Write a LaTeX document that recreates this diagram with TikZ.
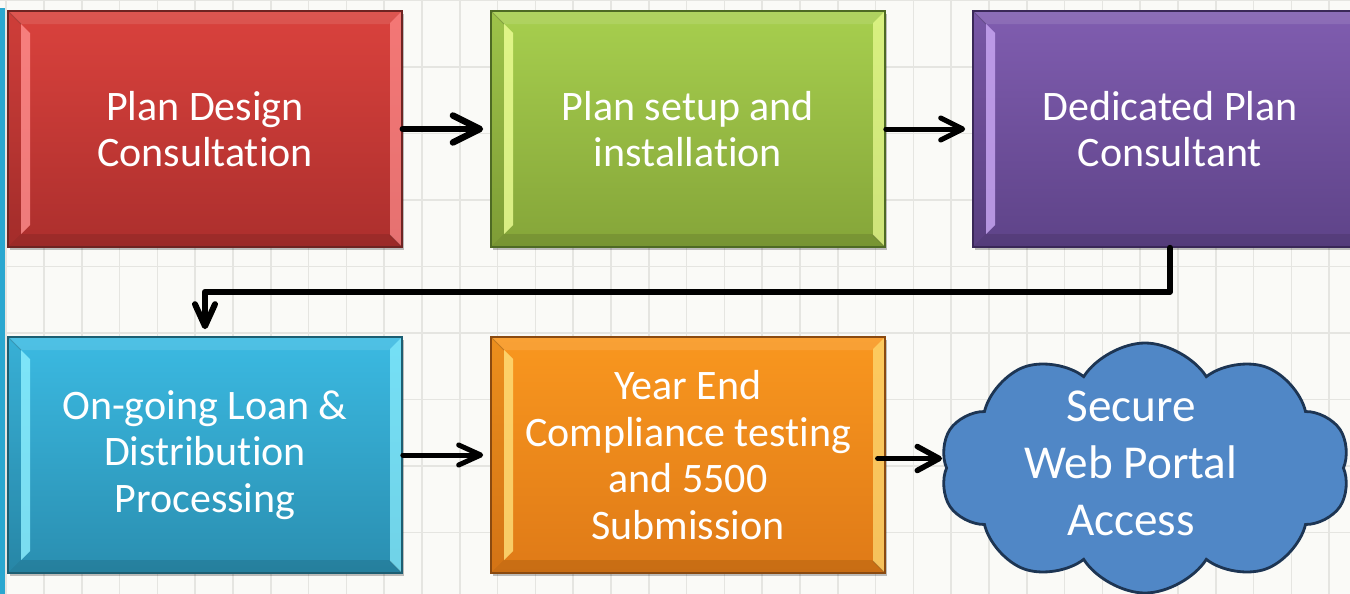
\documentclass[tikz,border=0pt]{standalone}
\usepackage{fontspec}
\setmainfont{Carlito}[Ligatures=NoCommon]
\usetikzlibrary{arrows.meta,shapes.symbols,shadows,calc}

\definecolor{pageback}{HTML}{FAFAF7}
\definecolor{gridline}{HTML}{E5E5E1}
\definecolor{edgebar}{HTML}{2AA7D0}
% box colours: top, bottom, highlight, outline
\definecolor{redtop}{HTML}{DA423D}\definecolor{redbot}{HTML}{AC2F2D}
\definecolor{redhi}{HTML}{FF8E8E}\definecolor{rededge}{HTML}{6E2422}
\definecolor{grntop}{HTML}{A7CF4E}\definecolor{grnbot}{HTML}{85A539}
\definecolor{grnhi}{HTML}{EEFF96}\definecolor{grnedge}{HTML}{4E6A24}
\definecolor{prptop}{HTML}{805DB0}\definecolor{prpbot}{HTML}{5E4388}
\definecolor{prphi}{HTML}{CBA9F5}\definecolor{prpedge}{HTML}{3A2858}
\definecolor{cyntop}{HTML}{3BBAE2}\definecolor{cynbot}{HTML}{2A8EB0}
\definecolor{cynhi}{HTML}{8EF0FF}\definecolor{cynedge}{HTML}{1C5E72}
\definecolor{orgtop}{HTML}{F9971F}\definecolor{orgbot}{HTML}{DF7A17}
\definecolor{orghi}{HTML}{FFE07A}\definecolor{orgedge}{HTML}{8A4A10}
\definecolor{cloudfill}{HTML}{5087C6}
\definecolor{cloudedge}{HTML}{1D3553}

\newcommand\boxfont{\fontsize{21}{23.2}\selectfont}
\newcommand\cloudfont{\fontsize{23.6}{28.5}\selectfont}

\tikzset{
  bevelbox/.style n args={4}{
    draw=#4, line width=0.8pt, top color=#1, bottom color=#2,
    minimum width=197pt, minimum height=118pt, inner sep=0pt,
    text=white, font=\boxfont, align=center,
    drop shadow={shadow xshift=1.2pt, shadow yshift=-1.6pt, opacity=.25, fill=black},
    path picture={
      \path (path picture bounding box.north west) coordinate (pnw)
            (path picture bounding box.south east) coordinate (pse);
      % top and bottom bevel faces
      \fill[white,opacity=.10] (pnw) -- (pnw-|pse) -- ($(pnw-|pse)+(-13,13)$)
        -- ($(pnw)+(13,13)$) -- cycle;
      \fill[black,opacity=.10] (pnw|-pse) -- (pse) -- ($(pse)+(-13,-13)$)
        -- ($(pnw|-pse)+(13,-13)$) -- cycle;
      % left bevel face and its inner highlight
      \fill[black,opacity=.05] (pnw) -- ($(pnw)+(13,13)$)
        -- ($(pnw|-pse)+(13,-13)$) -- (pnw|-pse) -- cycle;
      \fill[#3,opacity=.8] ($(pnw)+(13,13)$) -- ($(pnw)+(22,22)$)
        -- ($(pnw|-pse)+(22,-22)$) -- ($(pnw|-pse)+(13,-13)$) -- cycle;
      % right bevel face
      \fill[#3,opacity=.70] (pnw-|pse) -- (pse) -- ($(pse)+(-12,-12)$)
        -- ($(pnw-|pse)+(-12,12)$) -- cycle;
      \draw[black,opacity=.18,line width=0.5pt] ($(pnw)+(13,13)$) -- (pnw)
        ($(pse)+(-12,-12)$) -- (pse);
    }
  },
  arr/.style n args={3}{
    draw=black, line width=#1, line cap=round, line join=round,
    -{Straight Barb[length=#2,width=#3,round]}, shorten >=3.5pt
  }
}

\begin{document}
\begin{tikzpicture}[x=0.5pt,y=-0.5pt]
\useasboundingbox (0,0) rectangle (1350,594);
\clip (0,0) rectangle (1350,594);
% paper with a light grid
\fill[pageback] (0,0) rectangle (1350,594);
\foreach \k in {0,...,35}
  \draw[gridline,line width=0.8pt] ({6.2+37.8*\k},0) -- ({6.2+37.8*\k},594);
\foreach \k in {0,...,8}
  \draw[gridline,line width=0.8pt] (0,{0.5+66.5*\k}) -- (1350,{0.5+66.5*\k});
\fill[edgebar] (0,8) rectangle (5,594);

% process steps
\node[bevelbox={redtop}{redbot}{redhi}{rededge}] (b1) at (205,129)
  {Plan Design\\Consultation};
\node[bevelbox={grntop}{grnbot}{grnhi}{grnedge}] (b2) at (688,129)
  {Plan setup and\\installation};
\node[bevelbox={prptop}{prpbot}{prphi}{prpedge}] (b3) at (1170,129)
  {Dedicated Plan\\Consultant};
\node[bevelbox={cyntop}{cynbot}{cynhi}{cynedge}] (b4) at (205,455)
  {On-going Loan \&\\Distribution\\Processing};
\node[bevelbox={orgtop}{orgbot}{orghi}{orgedge}] (b5) at (688,455)
  {Year End\\Compliance testing\\and 5500\\Submission};
% the cloud takes its size from the minimum sizes; the label sits a little left of centre
\node[cloud, cloud puffs=10, cloud puff arc=115, aspect=1.6,
      minimum width=205pt, minimum height=125pt, inner sep=0pt,
      draw=cloudedge, line width=1.4pt, fill=cloudfill,
      text=white, font=\cloudfont] (cl) at (1145,468)
  {\makebox[0pt]{\raisebox{-5.9pt}[0pt][0pt]{%
    \begin{tabular}{@{}c@{\hspace{14pt}}}Secure\\Web Portal\\Access\end{tabular}}}};

% connectors
\coordinate (outfive) at ([shift={(-4pt,-1.75pt)}]b5.east);
\coordinate (cloudleft) at ([xshift=-101.5pt]cl.center);
\draw[arr={3.25pt}{13.5pt}{13.5pt}] (b1.east) -- (b2.west);
\draw[arr={2.5pt}{11pt}{11pt}] (b2.east) -- (b3.west);
\draw[arr={3pt}{11pt}{10pt}] (b3.south) -- ++(0,44) -| (b4.north);
\draw[arr={2.5pt}{11pt}{10pt}] (b4.east) -- (b5.west);
\draw[arr={2.75pt}{11pt}{12pt}, shorten >=0pt] (outfive) -- (outfive -| cloudleft);
\end{tikzpicture}
\end{document}
